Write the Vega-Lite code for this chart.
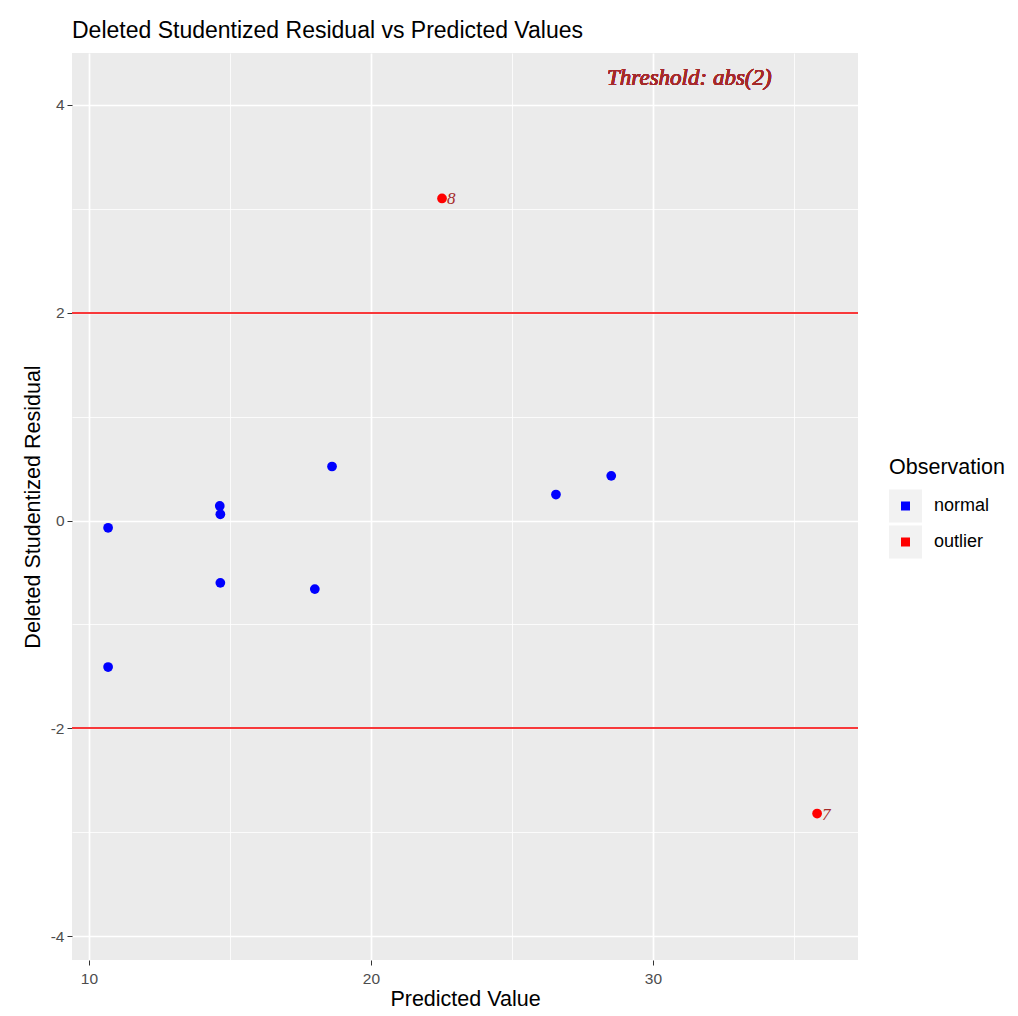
{
  "$schema": "https://vega.github.io/schema/vega-lite/v6.json",
  "autosize": {"type": "none"},
  "width": 786,
  "height": 907,
  "padding": {"left": 72, "top": 53, "right": 160, "bottom": 56},
  "background": "white",
  "title": {
    "text": "Deleted Studentized Residual vs Predicted Values",
    "anchor": "start",
    "frame": "group",
    "font": "Liberation Sans",
    "fontSize": 23,
    "fontWeight": "normal",
    "color": "#000000",
    "offset": 10
  },
  "config": {
    "view": {"fill": "#ebebeb", "stroke": null},
    "axis": {
      "labelFont": "Liberation Sans",
      "labelFontSize": 15.5,
      "labelColor": "#4d4d4d",
      "titleFont": "Liberation Sans",
      "titleFontSize": 21.5,
      "titleFontWeight": "normal",
      "titleColor": "#000000",
      "domain": false,
      "tickColor": "#333333",
      "tickSize": 5,
      "gridColor": "#ffffff"
    }
  },
  "data": {
    "values": [
      {"pred": 10.68, "resid": -0.07, "obs": "normal", "id": ""},
      {"pred": 10.68, "resid": -1.41, "obs": "normal", "id": ""},
      {"pred": 14.64, "resid": 0.14, "obs": "normal", "id": ""},
      {"pred": 14.66, "resid": 0.06, "obs": "normal", "id": ""},
      {"pred": 14.66, "resid": -0.6, "obs": "normal", "id": ""},
      {"pred": 18.01, "resid": -0.66, "obs": "normal", "id": ""},
      {"pred": 18.62, "resid": 0.52, "obs": "normal", "id": ""},
      {"pred": 26.56, "resid": 0.25, "obs": "normal", "id": ""},
      {"pred": 28.52, "resid": 0.43, "obs": "normal", "id": ""},
      {"pred": 22.52, "resid": 3.1, "obs": "outlier", "id": "8"},
      {"pred": 35.82, "resid": -2.82, "obs": "outlier", "id": "7"}
    ]
  },
  "layer": [
    {
      "mark": {"type": "point", "filled": true, "opacity": 1, "size": 95, "shape": "circle"},
      "encoding": {
        "x": {
          "field": "pred",
          "type": "quantitative",
          "title": "Predicted Value",
          "scale": {"domain": [9.4, 37.27], "nice": false, "zero": false},
          "axis": {
            "grid": true,
            "values": [10, 15, 20, 25, 30, 35],
            "labelExpr": "datum.value % 10 === 0 ? toString(datum.value) : ''",
            "tickOpacity": {"condition": {"test": "datum.value % 10 === 0", "value": 1}, "value": 0},
            "gridWidth": {"condition": {"test": "datum.value % 10 === 0", "value": 1.7}, "value": 0.8},
            "labelPadding": 6,
            "titlePadding": 2
          }
        },
        "y": {
          "field": "resid",
          "type": "quantitative",
          "title": "Deleted Studentized Residual",
          "scale": {"domain": [-4.23, 4.5], "nice": false, "zero": false},
          "axis": {
            "grid": true,
            "values": [-4, -3, -2, -1, 0, 1, 2, 3, 4],
            "labelExpr": "datum.value % 2 === 0 ? toString(datum.value) : ''",
            "tickOpacity": {"condition": {"test": "datum.value % 2 === 0", "value": 1}, "value": 0},
            "gridWidth": {"condition": {"test": "datum.value % 2 === 0", "value": 1.7}, "value": 0.8},
            "labelPadding": 3,
            "titlePadding": 6
          }
        },
        "color": {
          "field": "obs",
          "type": "nominal",
          "title": "Observation",
          "scale": {"domain": ["normal", "outlier"], "range": ["#0000ff", "#ff0000"]},
          "legend": {
            "orient": "none",
            "legendX": 817,
            "legendY": 404,
            "symbolType": "square",
            "symbolSize": 441,
            "symbolStrokeColor": "#f2f2f2",
            "symbolStrokeWidth": 12,
            "symbolOpacity": 1,
            "rowPadding": -22,
            "titleFont": "Liberation Sans",
            "titleFontSize": 21.5,
            "titleFontWeight": "normal",
            "titleColor": "#000000",
            "titlePadding": 11,
            "labelFont": "Liberation Sans",
            "labelFontSize": 18,
            "labelColor": "#000000",
            "labelOffset": 12,
            "encode": {"symbols": {"update": {"strokeJoin": {"value": "miter"}, "strokeMiterLimit": {"value": 1.5}}}}
          }
        }
      }
    },
    {
      "mark": {"type": "rule", "color": "#f8393a", "strokeWidth": 1.6},
      "encoding": {"y": {"datum": 2, "type": "quantitative"}}
    },
    {
      "mark": {"type": "rule", "color": "#f8393a", "strokeWidth": 1.6},
      "encoding": {"y": {"datum": -2, "type": "quantitative"}}
    },
    {
      "transform": [{"filter": "datum.obs === 'outlier'"}],
      "mark": {"type": "text", "align": "left", "baseline": "middle", "dx": 5, "dy": 1, "font": "Liberation Serif", "fontStyle": "italic", "fontWeight": "normal", "fontSize": 17, "color": "#a52a2a"},
      "encoding": {
        "x": {"field": "pred", "type": "quantitative"},
        "y": {"field": "resid", "type": "quantitative"},
        "text": {"field": "id"}
      }
    },
    {
      "mark": {"type": "text", "align": "center", "baseline": "middle", "font": "Liberation Serif", "fontStyle": "italic", "fontWeight": "normal", "fontSize": 23, "color": "#a52a2a"},
      "encoding": {
        "x": {"datum": 31.29, "type": "quantitative"},
        "y": {"datum": 4.26, "type": "quantitative"},
        "text": {"value": "Threshold: abs(2)"}
      }
    }
  ]
}
